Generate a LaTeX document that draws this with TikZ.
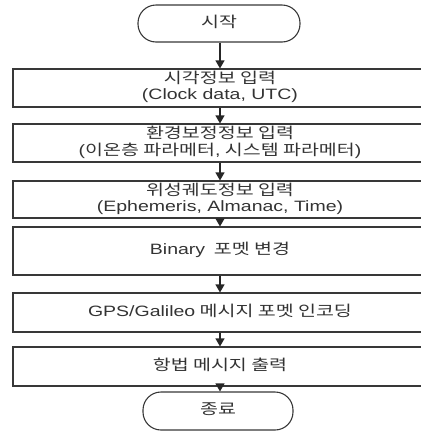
\documentclass[tikz,border=0pt]{standalone}
\usepackage{fontspec}
\usepackage{graphicx}
\setmainfont{Noto Sans CJK KR}
\newfontfamily\latfont{Liberation Sans}
\newcommand\lt[1]{{\latfont #1}}
\newcommand\tx[1]{\scalebox{1.3}[1]{\begin{tabular}{@{}c@{}}#1\end{tabular}}}
\usetikzlibrary{arrows.meta}
\begin{document}
\begin{tikzpicture}[x=1pt,y=-1pt,
  stepbox/.style={draw=black!78,line width=1.1pt,rectangle,minimum width=414pt,inner sep=0pt,align=center,
    font=\fontsize{15}{16}\selectfont,text=black!80},
  term/.style={draw=black!78,line width=1.1pt,rectangle,rounded corners=18pt,inner sep=0pt,
    font=\fontsize{15}{16}\selectfont,text=black!80},
  flow/.style={draw=black!85,line width=1.1pt,-{Triangle[length=8pt,width=9pt]}}]
\useasboundingbox (0,0) rectangle (421,440);
\clip (0,0) rectangle (421,440);
\node[term,minimum width=162pt,minimum height=37pt] (start) at (219,23.5) {\tx{시작}};
\node[stepbox,minimum height=38pt] (b1) at (220,88) {\tx{시각정보 입력\\\lt{(Clock data, UTC)}}};
\node[stepbox,minimum height=38pt] (b2) at (220,143) {\tx{환경보정정보 입력\\\lt{(}이온층 파라메터\lt{,} 시스템 파라메터\lt{)}}};
\node[stepbox,minimum height=37pt] (b3) at (220,199.5) {\tx{위성궤도정보 입력\\\lt{(Ephemeris, Almanac, Time)}}};
\node[stepbox,minimum height=48pt] (b4) at (220,251) {\tx{\lt{Binary}\ \ 포멧 변경}};
\node[stepbox,minimum height=39pt] (b5) at (220,312.5) {\tx{\lt{GPS/Galileo} 메시지 포멧 인코딩}};
\node[stepbox,minimum height=39pt] (b6) at (220,366.5) {\tx{항법 메시지 출력}};
\node[term,minimum width=150pt,minimum height=38pt] (end) at (218,411) {\tx{종료}};
\draw[flow] (start.south -| 220,0) -- (b1.north -| 220,0);
\draw[flow] (b1) -- (b2);
\draw[flow] (b2) -- (b3);
\draw[flow] (b3) -- (b4);
\draw[flow] (b4) -- (b5);
\draw[flow] (b5) -- (b6);
\draw[flow] (b6.south -| 220,0) -- (end.north -| 220,0);
\end{tikzpicture}
\end{document}
